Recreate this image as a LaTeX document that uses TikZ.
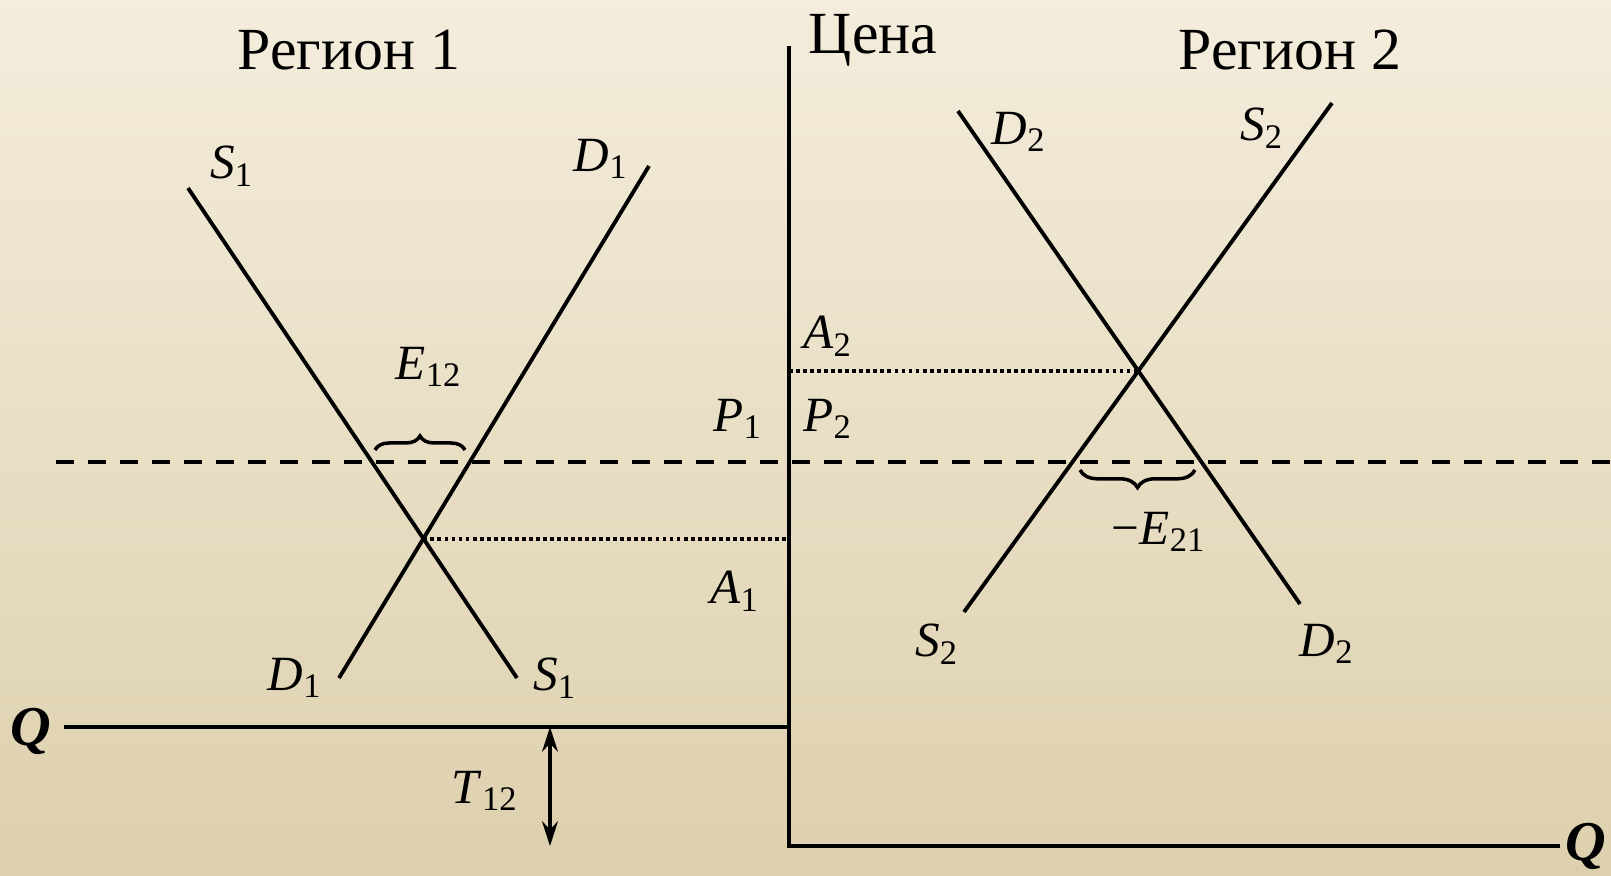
\documentclass[tikz,border=0pt]{standalone}
\usepackage{fontspec}
\setmainfont{Liberation Serif}
\usepackage{tikz}
\usetikzlibrary{arrows.meta,decorations.pathreplacing}
\definecolor{bgtop}{RGB}{244,237,220}
\definecolor{bgmid}{RGB}{241,234,215}
\definecolor{bgbot}{RGB}{221,208,174}
\newcommand{\crv}[2]{\textit{#1}\textsubscript{#2}}
\tikzset{
    curve/.style={line width=1.1pt},
    axis/.style={line width=0.9pt},
    price/.style={line width=1.1pt, dash pattern=on 5.2pt off 3.9pt},
    guide/.style={line width=1.1pt, dash pattern=on 1.1pt off 0.9pt},
    lbl/.style={font=\fontsize{14}{14}\selectfont},
    title/.style={font=\fontsize{17}{17}\selectfont},
    qlbl/.style={font=\fontsize{16}{16}\selectfont\bfseries\itshape},
    gap/.style={decorate, decoration={brace, amplitude=#1}, line width=1pt},
}

\begin{document}
\begin{tikzpicture}[x=0.01cm,y=-0.01cm]
    \useasboundingbox (0,0) rectangle (1611,875);
    \shade[top color=bgtop, middle color=bgmid, bottom color=bgbot] (0,0) rectangle (1611,875);

    % оси
    \coordinate (top) at (789,46);
    \coordinate (O) at (789,846);
    \coordinate (qend) at (1560,846);
    \coordinate (qleft) at (64,727);
    \coordinate (qmid) at (789,727);
    \draw[axis] (top) -- (O) -- (qend);
    \draw[axis] (qleft) -- (qmid);

    % регион 1
    \coordinate (s1a) at (188,188);
    \coordinate (s1b) at (517,678);
    \coordinate (d1a) at (649,166);
    \coordinate (d1b) at (339,678);
    \draw[curve] (s1a) -- (s1b);
    \draw[curve] (d1b) -- (d1a);
    \coordinate (e1) at (intersection of s1a--s1b and d1a--d1b);

    % регион 2
    \coordinate (d2a) at (958,111);
    \coordinate (d2b) at (1300,604);
    \coordinate (s2a) at (1332,103);
    \coordinate (s2b) at (964,612);
    \draw[curve] (d2a) -- (d2b);
    \draw[curve] (s2b) -- (s2a);
    \coordinate (e2) at (intersection of d2a--d2b and s2a--s2b);

    % цены
    \coordinate (pl) at (56,462);
    \coordinate (pr) at (1611,462);
    \draw[price] (pl) -- (pr);
    \draw[guide] (e1) -- (e1 -| top);
    \draw[guide] (e2 -| top) -- (e2);

    % скобки
    \coordinate (b1l) at (375,450);
    \coordinate (b1r) at (465,450);
    \coordinate (b2l) at (1080,470);
    \coordinate (b2r) at (1195,470);
    \draw[gap=4pt] (b1l) -- (b1r);
    \draw[gap=5pt] (b2r) -- (b2l);

    % транспорт
    \coordinate (t12a) at (550,727);
    \coordinate (t12b) at (550,846);
    \draw[line width=0.9pt, {Stealth[length=7pt,width=4.5pt]}-{Stealth[length=7pt,width=4.5pt]}] (t12a) -- (t12b);

    % подписи
    \node[title] (reg1) at (349,50) {Регион 1};
    \node[title] (reg2) at (1290,50) {Регион 2};
    \node[title] (price) at (873,40) {Цена};
    \node[lbl] (s1top) at (232,166) {\crv{S}{1}};
    \node[lbl] (d1top) at (601,159) {\crv{D}{1}};
    \node[lbl] (d1bot) at (295,678) {\crv{D}{1}};
    \node[lbl] (s1bot) at (555,678) {\crv{S}{1}};
    \node[lbl] (d2top) at (1019,132) {\crv{D}{2}};
    \node[lbl] (s2top) at (1262,128) {\crv{S}{2}};
    \node[lbl] (s2bot) at (937,644) {\crv{S}{2}};
    \node[lbl] (d2bot) at (1327,644) {\crv{D}{2}};
    \node[lbl] (e12) at (429,367) {\crv{E}{12}};
    \node[lbl] (e21) at (1159,532) {−\crv{E}{21}};
    \node[lbl] (p1) at (738,419) {\crv{P}{1}};
    \node[lbl] (p2) at (828,419) {\crv{P}{2}};
    \node[lbl] (a2) at (828,336) {\crv{A}{2}};
    \node[lbl] (a1) at (735,591) {\crv{A}{1}};
    \node[lbl] (t12) at (485,791) {\crv{T}{12}};
    \node[qlbl] (qtop) at (31,731) {Q};
    \node[qlbl, inner sep=0pt, anchor=east] (qbot) at (1607,846) {Q};
\end{tikzpicture}
\end{document}
